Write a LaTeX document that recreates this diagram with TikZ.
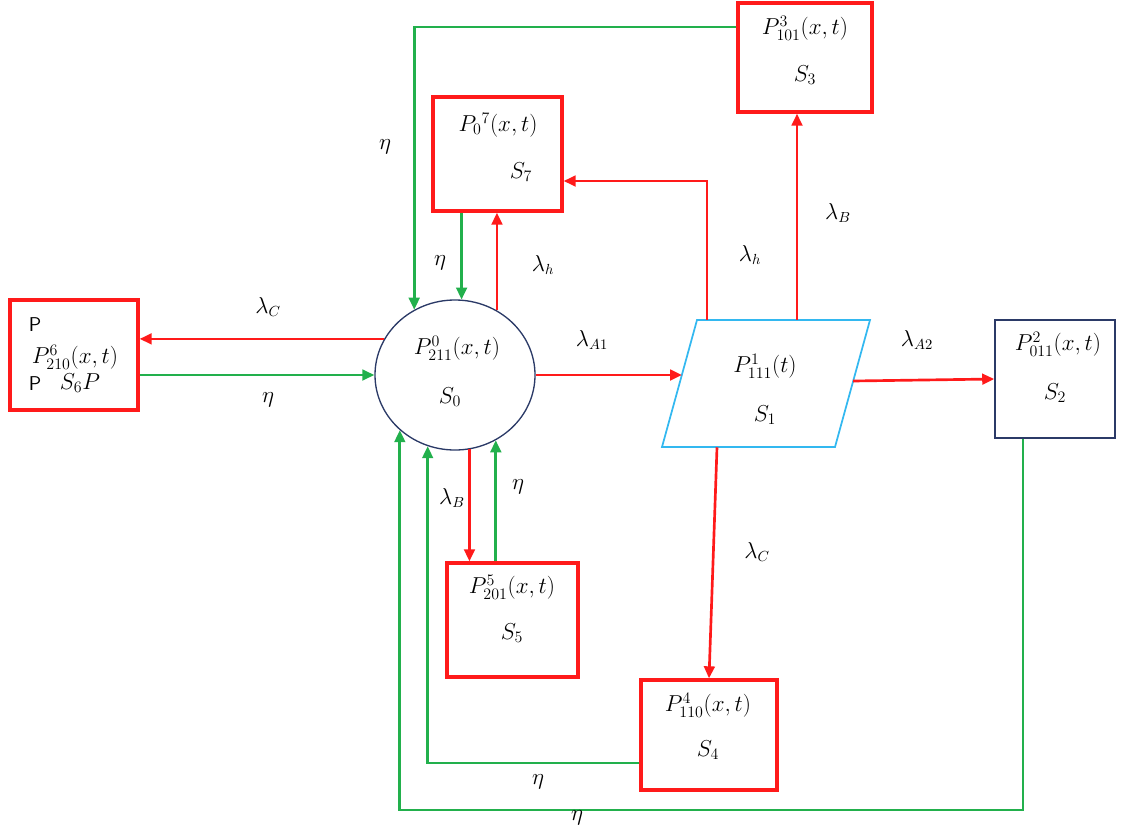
\documentclass[tikz,border=0pt]{standalone}
\usetikzlibrary{arrows.meta,shapes.geometric}
\definecolor{rd}{HTML}{FF1A1A}
\definecolor{gr}{HTML}{22B04C}
\definecolor{nv}{HTML}{2B3A67}
\definecolor{cy}{HTML}{33B8F0}
\begin{document}
\begin{tikzpicture}[x=0.75pt,y=-0.75pt,
  redbox/.style={draw=rd,line width=2.5pt,inner sep=0pt},
  ra/.style={draw=rd,line width=2pt,-{Triangle[length=9pt,width=8pt]}},
  ga/.style={draw=gr,line width=2pt,-{Triangle[length=9pt,width=8pt]}},
  txt/.style={font=\fontsize{18}{21}\selectfont,inner sep=0pt},
  lbl/.style={font=\fontsize{16}{18}\selectfont,inner sep=0pt}]
\useasboundingbox (0,0) rectangle (1128,832);
% state nodes
\node[redbox,minimum width=96pt,minimum height=82.5pt] (s6) at (74,355) {};
\node[redbox,minimum width=96.75pt,minimum height=85.5pt] (s7) at (497.5,154) {};
\node[redbox,minimum width=100.5pt,minimum height=81.75pt] (s3) at (805,57.5) {};
\node[draw=nv,line width=1.2pt,inner sep=0pt,minimum width=90pt,minimum height=88.5pt] (s2) at (1055,379) {};
\node[redbox,minimum width=98.25pt,minimum height=85.5pt] (s5) at (512.5,620) {};
\node[redbox,minimum width=102pt,minimum height=82.5pt] (s4) at (709,735) {};
\node[ellipse,draw=nv,line width=1pt,inner sep=0pt,minimum width=120pt,minimum height=112.5pt] (s0) at (455,375) {};
\draw[cy,line width=1.3pt] (697,320) -- (870,320) -- (835,447) -- (662,447) -- cycle;
\node[inner sep=0pt,minimum width=156pt,minimum height=95.25pt] (s1) at (766,383.5) {};
\coordinate (s1w) at (682,375);
\coordinate (s1e) at (853,381);
\coordinate (c1) at (1023,810);
% texts
\node[font=\sffamily\fontsize{15}{17}\selectfont,inner sep=0pt] (t6a) at (35,325) {P};
\node[txt] (t6b) at (75,357) {$P^{6}_{210}(x,t)$};
\node[font=\sffamily\fontsize{15}{17}\selectfont,inner sep=0pt] (t6c) at (35,384) {P};
\node[txt] (t6d) at (80,383) {$S_6P$};
\node[txt] (t0a) at (457,348) {$P^{0}_{211}(x,t)$};
\node[txt] (t0b) at (450,397) {$S_0$};
\node[txt] (t1a) at (765,366) {$P^{1}_{111}(t)$};
\node[txt] (t1b) at (765,415) {$S_1$};
\node[txt] (t2a) at (1058,344) {$P^{2}_{011}(x,t)$};
\node[txt] (t2b) at (1055,393) {$S_2$};
\node[txt] (t3a) at (805,28) {$P^{3}_{101}(x,t)$};
\node[txt] (t3b) at (805,75) {$S_3$};
\node[txt] (t7a) at (498,125) {$P_0{}^{7}(x,t)$};
\node[txt] (t7b) at (521,172) {$S_7$};
\node[txt] (t5a) at (512,587) {$P^{5}_{201}(x,t)$};
\node[txt] (t5b) at (512,633) {$S_5$};
\node[txt] (t4a) at (708,705) {$P^{4}_{110}(x,t)$};
\node[txt] (t4b) at (708,750) {$S_4$};
% connectors
\draw[ra] (s0.153) -- (s6.east |- s0.153);
\draw[ga] (s6.east |- s0.west) -- (s0.west);
\draw[ra] (s0.east) -- (s1w);
\draw[ra] (s1e) -- (s2.west);
\draw[ra] (s1.north -| 707,0) |- (s7.east |- 0,181);
\draw[ra] (s1.north -| 797,0) -- (s3.south -| 797,0);
\draw[ra] (s0.57) -- (s7.south -| s0.57);
\draw[ga] (s7.south -| s0.85) -- (s0.85);
\draw[ga] (s3.west |- 0,27) -| (s0.122);
\draw[ra] (s0.281) -- (s5.north -| s0.281);
\draw[ga] (s5.north -| s0.302) -- (s0.302);
\draw[ra] (s1.south -| 717,0) -- (s4.north);
\draw[ga] (s4.west |- 0,763) -| (s0.249);
\draw[ga] (s2.south -| c1) -- (c1) -| (s0.225);
% labels
\node[lbl] (l1) at (268,307) {$\lambda_C$};
\node[lbl] (l2) at (268,400) {$\eta$};
\node[lbl] (l3) at (592,340) {$\lambda_{A1}$};
\node[lbl] (l4) at (917,340) {$\lambda_{A2}$};
\node[lbl] (l5) at (750,255) {$\lambda_h$};
\node[lbl] (l6) at (838,213) {$\lambda_B$};
\node[lbl] (l7) at (543,265) {$\lambda_h$};
\node[lbl] (l8) at (440,263) {$\eta$};
\node[lbl] (l9) at (385,147) {$\eta$};
\node[lbl] (l10) at (452,498) {$\lambda_B$};
\node[lbl] (l11) at (518,487) {$\eta$};
\node[lbl] (l12) at (757,552) {$\lambda_C$};
\node[lbl] (l13) at (538,782) {$\eta$};
\node[lbl] (l14) at (577,818) {$\eta$};
\end{tikzpicture}
\end{document}
